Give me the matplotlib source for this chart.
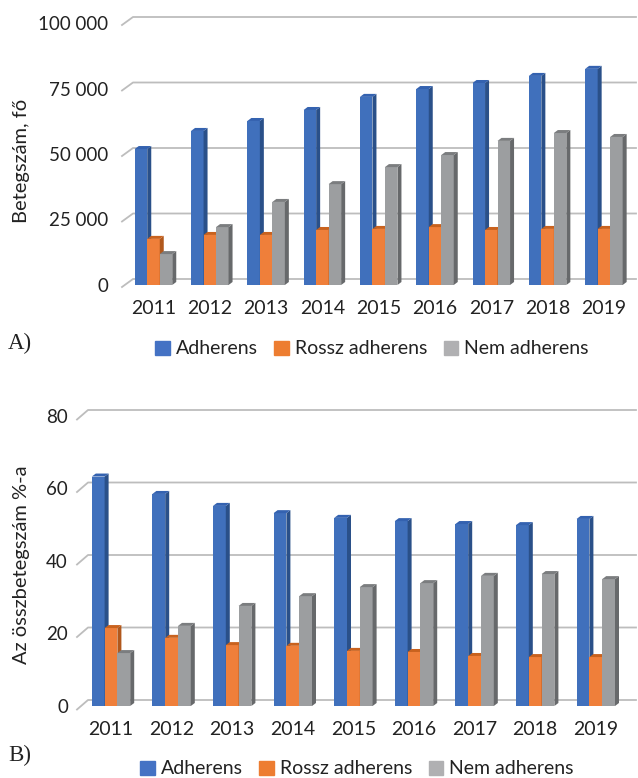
import matplotlib.pyplot as plt
from matplotlib.patches import Polygon, Patch

plt.rcParams['font.family'] = ['Lato', 'DejaVu Sans']

years = [2011, 2012, 2013, 2014, 2015, 2016, 2017, 2018, 2019]
series = ["Adherens", "Rossz adherens", "Nem adherens"]

# A) betegszám, fő
fo_adherens = [51900, 58800, 62600, 66800, 71800, 74800, 77100, 79800, 82500]
fo_rossz = [17600, 19100, 19100, 21000, 21400, 22100, 21000, 21400, 21400]
fo_nem = [11800, 22100, 31700, 38500, 45000, 49600, 55000, 58000, 56500]
fo_ticks = [0, 25000, 50000, 75000, 100000]

# B) az összbetegszám %-a
pct_adherens = [63.3, 58.5, 55.2, 53.2, 51.9, 51.0, 50.2, 49.9, 51.6]
pct_rossz = [21.5, 18.8, 16.8, 16.6, 15.2, 14.9, 13.8, 13.5, 13.5]
pct_nem = [14.6, 22.1, 27.6, 30.3, 32.8, 33.9, 35.9, 36.4, 35.0]
pct_ticks = [0, 20, 40, 60, 80]

front_colors = ["#4070bc", "#ef7f3a", "#9c9ea0"]
side_colors = ["#2a5089", "#b1581c", "#67696b"]
top_colors = ["#3462b0", "#c9621e", "#7b7d7f"]
legend_colors = ["#4472c4", "#ed7d31", "#b0b0b2"]
grid_color = "#bdbdbd"
text_color = "#222222"

W, H = 638, 778
fig = plt.figure(figsize=(W / 100, H / 100), dpi=100)


def draw_panel(left, top, right, zero_px, c0, step, bar_px, px_per_unit,
               ticks, ticklabels, values, ylabel, ylabel_x, label_pad, front_dy):
    ax = fig.add_axes([left / W, 1 - zero_px / H, (right - left) / W, (zero_px - top) / H])
    ax.set_xlim((left - c0) / step, (right - c0) / step)
    ax.set_ylim(0, (zero_px - top) / px_per_unit)
    ux = 1 / step
    uy = 1 / px_per_unit
    x0, x1 = ax.get_xlim()

    # back wall gridlines with the slanted floor edge on the left
    for v in ticks:
        ax.plot([x0, x0 + 11 * ux, x1],
                [v - front_dy * uy, v + 6 * uy, v + 6 * uy],
                color=grid_color, lw=1.3, clip_on=False, zorder=0)

    # 3D-looking columns: front face, right side, top
    w = bar_px * ux
    dx, dy = 4 * ux, 3 * uy
    for i, vals in enumerate(values):
        xs = [k + (i - 1) * w for k in range(len(years))]
        ax.bar(xs, vals, width=w, color=front_colors[i], zorder=2 + i, linewidth=0)
        for x, v in zip(xs, vals):
            xr, xl = x + w / 2, x - w / 2
            ax.add_patch(Polygon([(xr, 0), (xr + dx, dy), (xr + dx, v + dy), (xr, v)],
                                 closed=True, color=side_colors[i], lw=0, zorder=2 + i))
            ax.add_patch(Polygon([(xl, v), (xl + dx, v + dy), (xr + dx, v + dy), (xr, v)],
                                 closed=True, color=top_colors[i], lw=0, zorder=2 + i))

    ax.set_xticks(range(len(years)), [str(y) for y in years])
    ax.set_yticks(ticks, ticklabels)
    ax.tick_params(axis='x', length=0, pad=label_pad, labelsize=14, labelcolor=text_color)
    ax.tick_params(axis='y', length=0, pad=(left - ylabel_x[1]) * 0.72, labelsize=13.5,
                   labelcolor=text_color)
    for s in ax.spines.values():
        s.set_visible(False)
    ax.patch.set_visible(False)
    ax.set_ylabel(ylabel, fontsize=14.5, color=text_color)
    ax.yaxis.set_label_coords((ylabel_x[0] - left) / (right - left), 0.5 + ylabel_x[2])
    return ax


fo_labels = [f"{t:,}".replace(",", " ") for t in fo_ticks]
draw_panel(122, 10, 636, 285, 153.5, 56.3, 12.5, 65.5 / 25000,
           fo_ticks, fo_labels, [fo_adherens, fo_rossz, fo_nem],
           "Betegszám, fő", (30, 108, -0.05), 11, 2)

draw_panel(77, 400, 636, 706, 111, 60.6, 12.8, 72.5 / 20,
           pct_ticks, [str(t) for t in pct_ticks], [pct_adherens, pct_rossz, pct_nem],
           "Az összbetegszám %-a", (30, 68, -0.04), 11, 3.5)

handles = [Patch(color=c, label=s) for c, s in zip(legend_colors, series)]
for cx, cy in [(372, 349), (357, 769)]:
    fig.legend(handles=handles, loc='center', bbox_to_anchor=(cx / W, 1 - cy / H),
               ncol=3, frameon=False, fontsize=14, handlelength=0.75, handleheight=0.75,
               handletextpad=0.3, columnspacing=0.85, borderaxespad=0, borderpad=0,
               labelcolor=text_color)

fig.text(8 / W, 1 - 343 / H, "A)", family="Liberation Serif", fontsize=16.5,
         va='center', ha='left', color=text_color)
fig.text(8 / W, 1 - 755 / H, "B)", family="Liberation Serif", fontsize=16.5,
         va='center', ha='left', color=text_color)

fig.savefig("out.png", dpi=100)
